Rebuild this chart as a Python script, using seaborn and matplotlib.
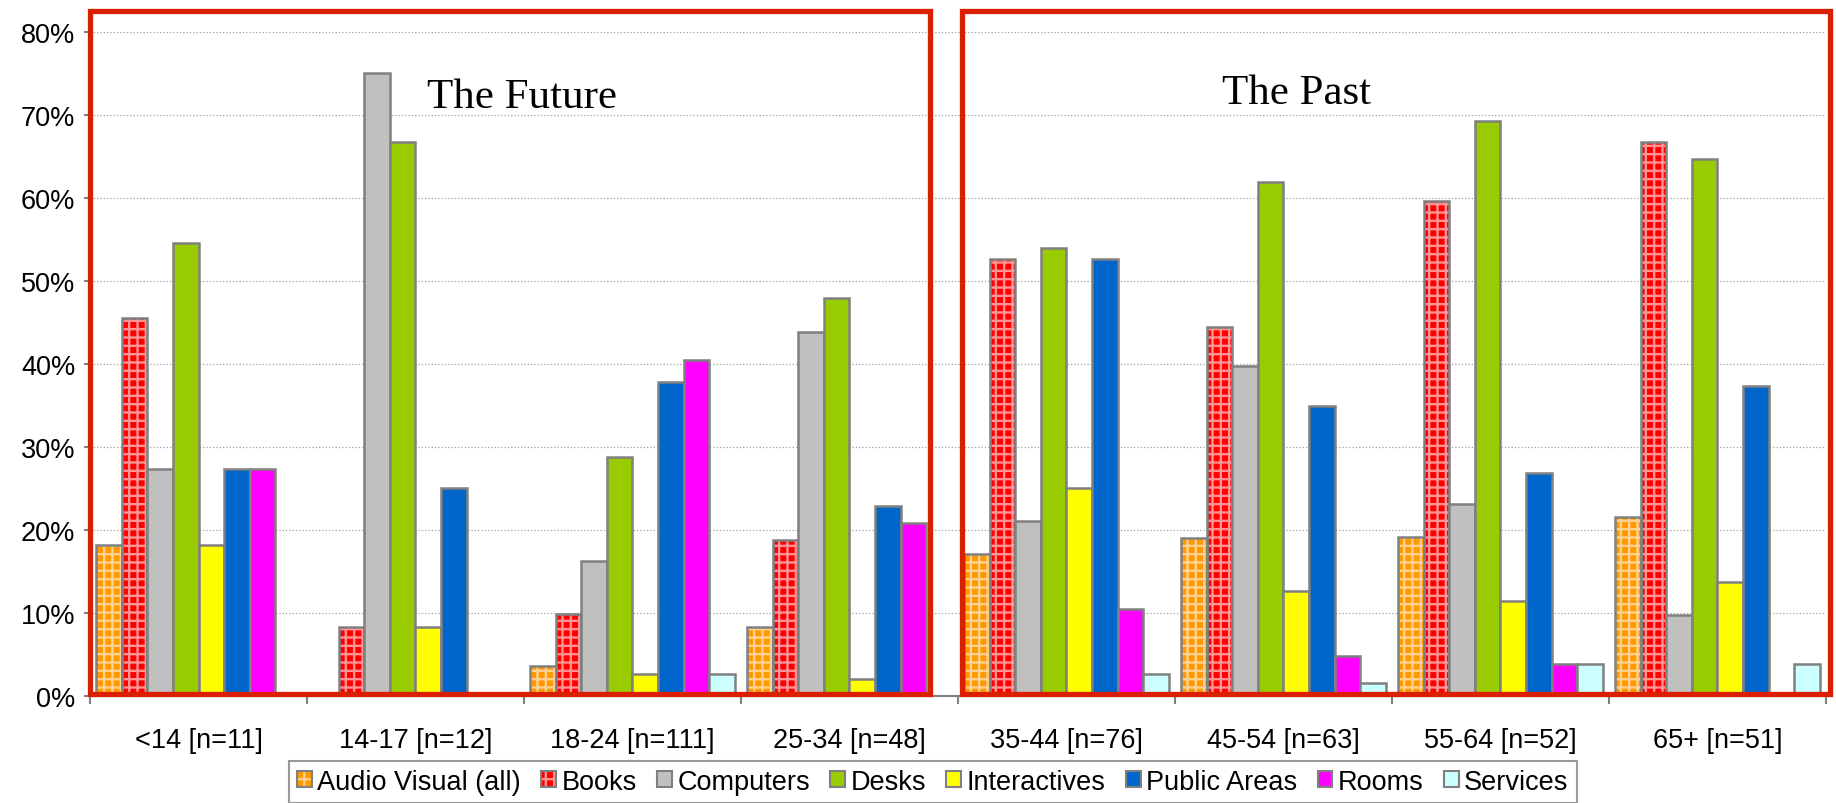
import pandas as pd
import matplotlib
matplotlib.use('Agg')
import matplotlib.pyplot as plt
import matplotlib.transforms as mtransforms
import seaborn as sns
from matplotlib.patches import Rectangle, Patch
from matplotlib.legend_handler import HandlerTuple

# age groups (x axis) and library areas (hue)
groups = ['<14 [n=11]', '14-17 [n=12]', '18-24 [n=111]', '25-34 [n=48]',
          '35-44 [n=76]', '45-54 [n=63]', '55-64 [n=52]', '65+ [n=51]']
categories = ['Audio Visual (all)', 'Books', 'Computers', 'Desks',
              'Interactives', 'Public Areas', 'Rooms', 'Services']

# percentages
audio_visual = [18.2, 0.0, 3.6, 8.3, 17.1, 19.0, 19.2, 21.6]
books = [45.5, 8.3, 9.9, 18.8, 52.6, 44.4, 59.6, 66.7]
computers = [27.3, 75.0, 16.2, 43.8, 21.1, 39.7, 23.1, 9.8]
desks = [54.5, 66.7, 28.8, 47.9, 53.9, 61.9, 69.2, 64.7]
interactives = [18.2, 8.3, 2.7, 2.1, 25.0, 12.7, 11.5, 13.7]
public_areas = [27.3, 25.0, 37.8, 22.9, 52.6, 34.9, 26.9, 37.3]
rooms = [27.3, 0.0, 40.5, 20.8, 10.5, 4.8, 3.8, 0.0]
services = [0.0, 0.0, 2.7, 0.0, 2.6, 1.6, 3.8, 3.9]

colors = ['#FF9900', '#FF0000', '#C0C0C0', '#99CC00',
          '#FFFF00', '#0066CC', '#FF00FF', '#CCFFFF']
checker = {'Audio Visual (all)': '#FFD08F', 'Books': '#FF9494'}

series = [audio_visual, books, computers, desks, interactives, public_areas, rooms, services]
rows = []
for cat, vals in zip(categories, series):
    for g, v in zip(groups, vals):
        rows.append({'Age': g, 'Area': cat, 'Percent': v})
df = pd.DataFrame(rows)

plt.rcParams['font.family'] = ['Liberation Sans', 'DejaVu Sans']
plt.rcParams['hatch.linewidth'] = 1.7

edge = '#808080'
red = '#DA2000'

fig = plt.figure(figsize=(18.36, 8.04), dpi=100)
ax = fig.add_axes([0.04902, 0.13308, 0.94553, 0.82625])

sns.barplot(data=df, x='Age', y='Percent', hue='Area', order=groups,
            hue_order=categories, palette=dict(zip(categories, colors)),
            saturation=1, width=0.944, errorbar=None, edgecolor=edge,
            linewidth=1.8, legend=False, ax=ax)

# checkered fill for the first two series
for cat, cont in zip(categories, ax.containers):
    if cat in checker:
        for p in cont.patches:
            base = Rectangle((p.get_x(), p.get_y()), p.get_width(), p.get_height(),
                             facecolor=p.get_facecolor(), edgecolor=checker[cat],
                             hatch='++', linewidth=0, zorder=p.get_zorder() - 0.01)
            ax.add_patch(base)
            p.set_facecolor('none')

ax.set_xlim(-0.5, 7.5)
ax.set_ylim(0, 80)
ax.set_yticks(range(0, 81, 10))
ax.set_yticklabels([f'{v}%' for v in range(0, 81, 10)])
ax.set_xticks(range(len(groups)))
ax.set_xticklabels(groups)
ax.set_xticks([i - 0.5 for i in range(len(groups) + 1)], minor=True)
ax.tick_params(axis='x', which='major', length=0, pad=22, labelsize=19.5)
ax.tick_params(axis='x', which='minor', length=6, width=1.5, color=edge, direction='out')
ax.tick_params(axis='y', length=4.5, width=1.5, color=edge, pad=6, labelsize=19.5)
ax.set_xlabel('')
ax.set_ylabel('')
ax.yaxis.grid(True, linestyle=':', color='#A0A0A0', linewidth=0.9)
ax.set_axisbelow(True)
for s in ['top', 'right']:
    ax.spines[s].set_visible(False)
for s in ['left', 'bottom']:
    ax.spines[s].set_color(edge)
    ax.spines[s].set_linewidth(1.5)

# red boxes marking the two halves
trans = mtransforms.blended_transform_factory(ax.transData, ax.transAxes)
ax.add_patch(Rectangle((-0.5, 0.003), 3.87, 1.028, transform=trans, fill=False,
                       edgecolor=red, linewidth=3.8, clip_on=False, zorder=10))
ax.add_patch(Rectangle((3.52, 0.003), 4.0, 1.028, transform=trans, fill=False,
                       edgecolor=red, linewidth=3.8, clip_on=False, zorder=10))
ax.text(1.49, 72.2, 'The Future', ha='center', va='center', fontsize=31,
        family=['Liberation Serif', 'DejaVu Serif'], zorder=11)
ax.text(5.06, 72.6, 'The Past', ha='center', va='center', fontsize=31,
        family=['Liberation Serif', 'DejaVu Serif'], zorder=11)

# legend
handles = []
for cat, c in zip(categories, colors):
    if cat in checker:
        handles.append((Patch(facecolor=c, edgecolor=checker[cat], hatch='++', linewidth=0),
                        Patch(facecolor='none', edgecolor=edge, linewidth=1.5)))
    else:
        handles.append(Patch(facecolor=c, edgecolor=edge, linewidth=1.5))
leg = fig.legend(handles, categories, loc='lower center', bbox_to_anchor=(0.508, 0.0),
                 ncol=8, fontsize=19.5, frameon=True, fancybox=False,
                 handlelength=0.55, handleheight=0.55, handletextpad=0.2,
                 columnspacing=0.75, borderpad=0.3, borderaxespad=0.0,
                 handler_map={tuple: HandlerTuple(ndivide=1, pad=0)})
leg.get_frame().set_edgecolor(edge)
leg.get_frame().set_linewidth(1.5)

fig.savefig('out.png', dpi=100)
